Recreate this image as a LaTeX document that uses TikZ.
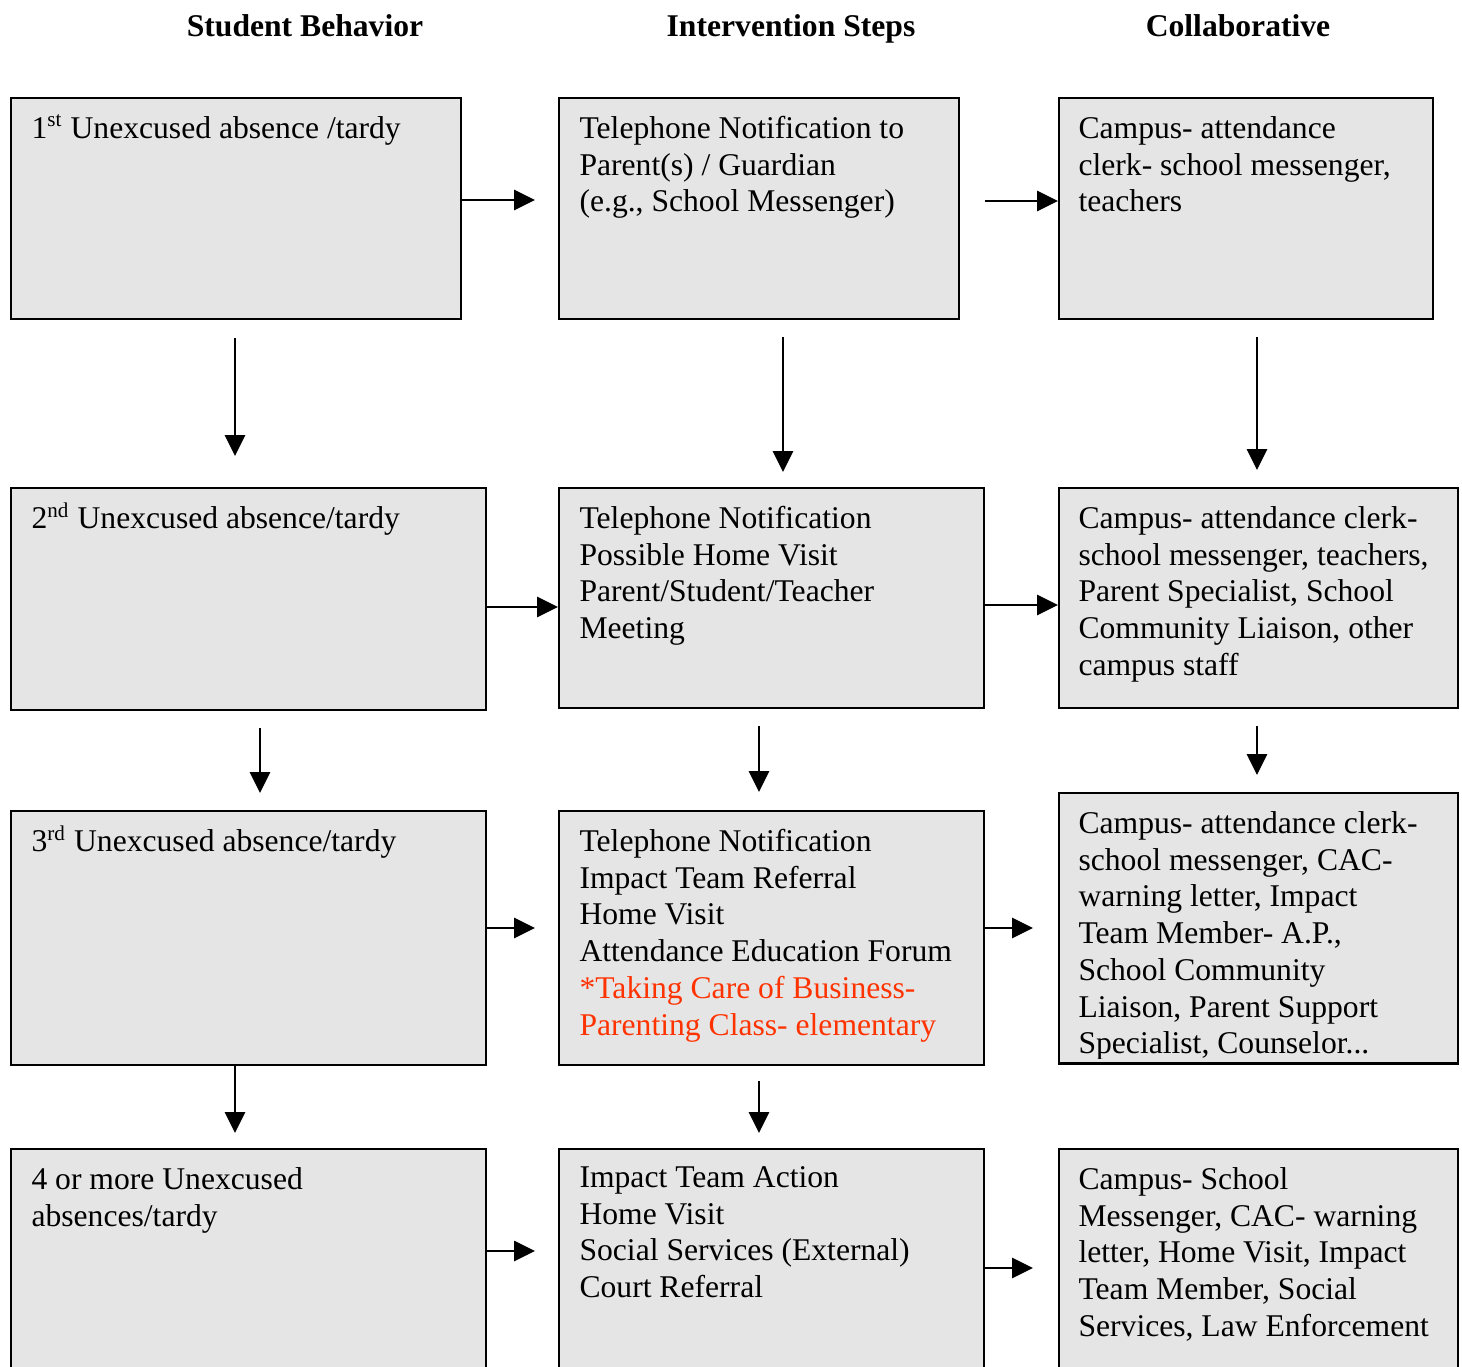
\documentclass[tikz,border=0pt]{standalone}
\usepackage{fontspec}
\setmainfont{Liberation Serif}
\definecolor{boxgray}{RGB}{229,229,229}
\definecolor{alertred}{RGB}{255,51,0}
\usetikzlibrary{arrows.meta}
\newlength{\pxu}
\setlength{\pxu}{0.013333cm}

\begin{document}
\begin{tikzpicture}[x=0.013333cm, y=-0.013333cm,
    stage/.style={rectangle, draw=black, line width=0.75pt, fill=boxgray,
                  inner sep=0pt, anchor=north west},
    boxtext/.style={anchor=north west, inner sep=0pt, align=left,
                    font=\fontsize{12pt}{13.95pt}\selectfont},
    head/.style={anchor=base, inner sep=0pt, font=\fontsize{12pt}{13.9pt}\selectfont\bfseries},
    flow/.style={-{Triangle[length=0.28cm, width=0.27cm]}, line width=0.75pt}]

    \useasboundingbox (0,0) rectangle (1462,1366);
    \clip (0,0) rectangle (1462,1366);

    % Column heads
    \node[head] (hA) at (305,36) {Student Behavior};
    \node[head] (hB) at (791,36) {Intervention Steps};
    \node[head] (hC) at (1238,36) {Collaborative};

    % Boxes
    \node[stage, minimum width=450*\pxu, minimum height=221*\pxu] (A1) at (10,97) {};
    \node[stage, minimum width=400*\pxu, minimum height=221*\pxu] (B1) at (558,97) {};
    \node[stage, minimum width=374*\pxu, minimum height=221*\pxu] (C1) at (1058,97) {};
    \node[stage, minimum width=475*\pxu, minimum height=222*\pxu] (A2) at (10,487) {};
    \node[stage, minimum width=425*\pxu, minimum height=220*\pxu] (B2) at (558,487) {};
    \node[stage, minimum width=399*\pxu, minimum height=220*\pxu] (C2) at (1058,487) {};
    \node[stage, minimum width=475*\pxu, minimum height=254*\pxu] (A3) at (10,810) {};
    \node[stage, minimum width=425*\pxu, minimum height=254*\pxu] (B3) at (558,810) {};
    \node[stage, minimum width=399*\pxu, minimum height=270*\pxu] (C3) at (1058,792) {};
    \node[stage, minimum width=475*\pxu, minimum height=260*\pxu] (A4) at (10,1148) {};
    \node[stage, minimum width=425*\pxu, minimum height=260*\pxu] (B4) at (558,1148) {};
    \node[stage, minimum width=399*\pxu, minimum height=260*\pxu] (C4) at (1058,1148) {};

    % Box contents (first baseline 40px below the box top)
    \node[boxtext] (tA1) at ([shift={(21,15)}]A1.north west) {\strut 1\textsuperscript{st} Unexcused absence /tardy};
    \node[boxtext] (tB1) at ([shift={(21,15)}]B1.north west) {\strut Telephone Notification to\\Parent(s) / Guardian\\(e.g., School Messenger)};
    \node[boxtext] (tC1) at ([shift={(20,15)}]C1.north west) {\strut Campus- attendance\\clerk- school messenger,\\teachers};
    \node[boxtext] (tA2) at ([shift={(21,15)}]A2.north west) {\strut 2\textsuperscript{nd} Unexcused absence/tardy};
    \node[boxtext] (tB2) at ([shift={(21,15)}]B2.north west) {\strut Telephone Notification\\Possible Home Visit\\Parent/Student/Teacher\\Meeting};
    \node[boxtext] (tC2) at ([shift={(20,15)}]C2.north west) {\strut Campus- attendance clerk-\\school messenger, teachers,\\Parent Specialist, School\\Community Liaison, other\\campus staff};
    \node[boxtext] (tA3) at ([shift={(21,15)}]A3.north west) {\strut 3\textsuperscript{rd} Unexcused absence/tardy};
    \node[boxtext] (tB3) at ([shift={(21,15)}]B3.north west) {\strut Telephone Notification\\Impact Team Referral\\Home Visit\\Attendance Education Forum\\\textcolor{alertred}{*Taking Care of Business-}\\\textcolor{alertred}{Parenting Class- elementary}};
    \begin{scope}
        \clip (C3.north west) rectangle ([yshift=5*\pxu]C3.south east);
        \node[boxtext] (tC3) at ([shift={(20,15)}]C3.north west) {\strut Campus- attendance clerk-\\school messenger, CAC-\\warning letter, Impact\\Team Member- A.P.,\\School Community\\Liaison, Parent Support\\Specialist, Counselor...};
    \end{scope}
    \draw[line width=0.75pt] (C3.south west) -- (C3.south east);
    \node[boxtext] (tA4) at ([shift={(21,15)}]A4.north west) {\strut 4 or more Unexcused\\absences/tardy};
    \node[boxtext] (tB4) at ([shift={(21,13)}]B4.north west) {\strut Impact Team Action\\Home Visit\\Social Services (External)\\Court Referral};
    \node[boxtext] (tC4) at ([shift={(20,15)}]C4.north west) {\strut Campus- School\\Messenger, CAC- warning\\letter, Home Visit, Impact\\Team Member, Social\\Services, Law Enforcement};

    % Arrows across
    \draw[flow, shorten >=23*\pxu] ([yshift=-103*\pxu]A1.north east) -- ([yshift=-103*\pxu]B1.north west);
    \draw[flow, shorten <=25*\pxu] ([yshift=-104*\pxu]B1.north east) -- ([yshift=-104*\pxu]C1.north west);
    \draw[flow] ([yshift=-120*\pxu]A2.north east) -- ([yshift=-120*\pxu]B2.north west);
    \draw[flow] ([yshift=-118*\pxu]B2.north east) -- ([yshift=-118*\pxu]C2.north west);
    \draw[flow, shorten >=23*\pxu] ([yshift=-118*\pxu]A3.north east) -- ([yshift=-118*\pxu]B3.north west);
    \draw[flow, shorten >=25*\pxu] ([yshift=-118*\pxu]B3.north east) -- ([yshift=-118*\pxu]B3.north east -| C3.west);
    \draw[flow, shorten >=23*\pxu] ([yshift=-103*\pxu]A4.north east) -- ([yshift=-103*\pxu]B4.north west);
    \draw[flow, shorten >=25*\pxu] ([yshift=-120*\pxu]B4.north east) -- ([yshift=-120*\pxu]C4.north west);

    % Arrows down
    \draw[flow, shorten <=18*\pxu, shorten >=31*\pxu] ([xshift=225*\pxu]A1.south west) -- ([xshift=225*\pxu]A2.north west);
    \draw[flow, shorten <=17*\pxu, shorten >=15*\pxu] ([xshift=225*\pxu]B1.south west) -- ([xshift=225*\pxu]B2.north west);
    \draw[flow, shorten <=17*\pxu, shorten >=17*\pxu] ([xshift=199*\pxu]C1.south west) -- ([xshift=199*\pxu]C2.north west);
    \draw[flow, shorten <=17*\pxu, shorten >=17*\pxu] ([xshift=250*\pxu]A2.south west) -- ([xshift=250*\pxu]A3.north west);
    \draw[flow, shorten <=17*\pxu, shorten >=18*\pxu] ([xshift=201*\pxu]B2.south west) -- ([xshift=201*\pxu]B3.north west);
    \draw[flow, shorten <=17*\pxu, shorten >=17*\pxu] ([xshift=199*\pxu]C2.south west) -- ([xshift=199*\pxu]C3.north west);
    \draw[flow, shorten >=15*\pxu] ([xshift=225*\pxu]A3.south west) -- ([xshift=225*\pxu]A4.north west);
    \draw[flow, shorten <=15*\pxu, shorten >=15*\pxu] ([xshift=201*\pxu]B3.south west) -- ([xshift=201*\pxu]B4.north west);
\end{tikzpicture}
\end{document}
